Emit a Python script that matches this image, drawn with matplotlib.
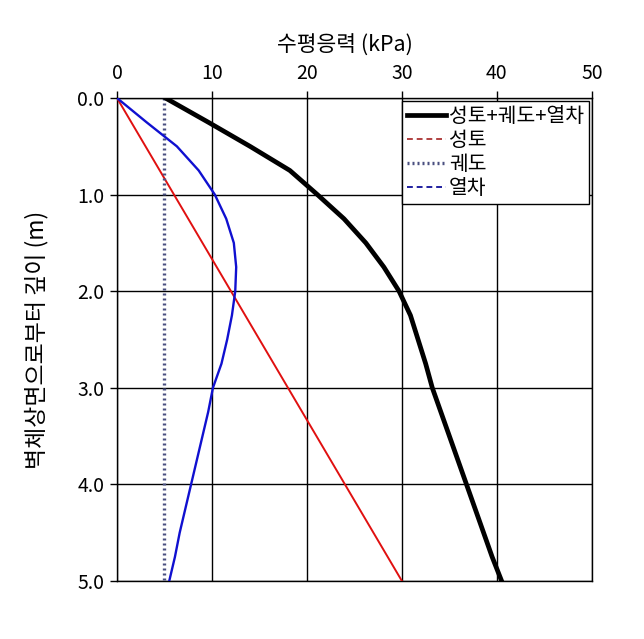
import matplotlib
matplotlib.use("Agg")
import matplotlib.pyplot as plt
from matplotlib.lines import Line2D

plt.rcParams["font.family"] = ["Noto Sans CJK KR", "DejaVu Sans"]

# depth below wall top (m)
depth = [0.0, 0.25, 0.5, 0.75, 1.0, 1.25, 1.5, 1.75, 2.0, 2.25, 2.5,
         2.75, 3.0, 3.25, 3.5, 3.75, 4.0, 4.25, 4.5, 4.75, 5.0]
# horizontal stress (kPa)
total = [5.1, 9.6, 14.0, 18.2, 21.1, 23.9, 26.2, 28.1, 29.7, 30.9, 31.7,
         32.5, 33.2, 34.1, 35.0, 35.9, 36.8, 37.7, 38.6, 39.5, 40.5]
fill_depth = [0.0, 5.0]
fill = [0.0, 30.0]
track_depth = [0.0, 5.0]
track = [5.0, 5.0]
train = [0.0, 3.1, 6.3, 8.6, 10.3, 11.5, 12.3, 12.55, 12.45, 12.1, 11.6,
         11.0, 10.1, 9.6, 9.0, 8.4, 7.8, 7.2, 6.6, 6.1, 5.5]

labels = ["성토+궤도+열차", "성토", "궤도", "열차"]

fig = plt.figure(figsize=(6.44, 6.39), dpi=100)
ax = fig.add_axes([0.1817, 0.0908, 0.919 - 0.1817, 0.8466 - 0.0908])

ax.plot(total, depth, color="black", lw=3.4, zorder=4, solid_joinstyle="round")
ax.plot(fill, fill_depth, color="#e01010", lw=1.4, zorder=3)
ax.plot(track, track_depth, color="#4a5080", lw=2.4, ls=(0, (0.6, 0.9)), zorder=3)
ax.plot(train, depth, color="#1010d0", lw=1.7, zorder=3, solid_joinstyle="round")

ax.set_xlim(0, 50)
ax.set_ylim(5.0, 0.0)
ax.set_xticks(range(0, 51, 10))
ax.set_yticks([0, 1, 2, 3, 4, 5])
ax.set_yticklabels(["0.0", "1.0", "2.0", "3.0", "4.0", "5.0"])
ax.xaxis.tick_top()
ax.xaxis.set_label_position("top")
ax.tick_params(axis="both", direction="out", length=5, width=1, labelsize=14,
               color="black")
ax.tick_params(axis="x", pad=5)
ax.tick_params(axis="y", pad=4)
ax.grid(True, color="black", lw=1)
for sp in ax.spines.values():
    sp.set_linewidth(1)
    sp.set_color("black")

ax.set_xlabel("수평응력 (kPa)", fontsize=15.5)
ax.xaxis.set_label_coords(0.48, 1.095)
ax.set_ylabel("벽체상면으로부터 깊이 (m)", fontsize=16.5)
ax.yaxis.set_label_coords(-0.145, 0.5)

handles = [
    Line2D([], [], color="black", lw=3.4),
    Line2D([], [], color="#b04040", lw=1.4, ls=(0, (3, 2))),
    Line2D([], [], color="#4a5080", lw=2.4, ls=(0, (0.6, 0.9))),
    Line2D([], [], color="#2020a0", lw=1.4, ls=(0, (3, 2))),
]
leg = ax.legend(handles, labels, loc="upper right", bbox_to_anchor=(0.994, 0.994),
                fontsize=14.7, frameon=True, fancybox=False, framealpha=1,
                edgecolor="black", handlelength=1.9, handletextpad=0.15,
                labelspacing=0.15, borderpad=0.25, borderaxespad=0)
leg.get_frame().set_linewidth(1)
leg.set_zorder(5)

fig.savefig("out.png", dpi=100)
